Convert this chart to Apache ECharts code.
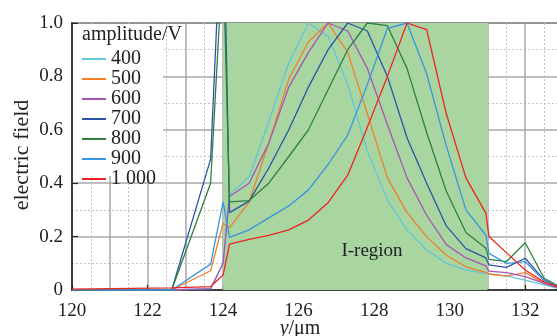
<!DOCTYPE html>
<html>
<head>
<meta charset="utf-8">
<script src="https://cdn.jsdelivr.net/npm/echarts@6/dist/echarts.min.js"></script>
<style>
  html, body { margin: 0; padding: 0; background: #fff; }
  #chart { width: 557px; height: 336px; }
</style>
</head>
<body>
<div id="chart"></div>
<script>
// Sampling positions along y (µm)
const positions = [120, 122.64, 123.67, 124.0, 124.17, 124.69, 125.21, 125.74, 126.26, 126.78,
  127.30, 127.82, 128.35, 128.87, 129.39, 129.91, 130.43, 130.96, 131.04, 131.5, 132.0, 132.5, 133.0];

// Normalised electric field for each excitation amplitude
const amplitudes = ['400', '500', '600', '700', '800', '900', '1 000'];
const field400 = [0, 0, 0.005, 0.10, 0.356, 0.424, 0.63, 0.85, 1.0, 0.95, 0.77, 0.52, 0.337, 0.225, 0.15, 0.10, 0.075, 0.062, 0.06, 0.053, 0.037, 0.019, 0.002];
const field500 = [0, 0, 0.072, 0.25, 0.233, 0.33, 0.55, 0.79, 0.93, 1.0, 0.89, 0.66, 0.42, 0.29, 0.20, 0.13, 0.087, 0.065, 0.06, 0.052, 0.065, 0.025, 0.003];
const field600 = [0, 0, 0.005, 0.10, 0.35, 0.40, 0.55, 0.76, 0.89, 1.0, 0.97, 0.83, 0.62, 0.42, 0.28, 0.17, 0.12, 0.09, 0.071, 0.065, 0.05, 0.025, 0.003];
const field700 = [0, 0, 0.49, 1.53, 0.29, 0.333, 0.457, 0.60, 0.76, 0.90, 1.0, 0.97, 0.80, 0.57, 0.40, 0.24, 0.155, 0.12, 0.094, 0.085, 0.119, 0.037, 0.005];
const field800 = [0, 0, 0.40, 1.26, 0.33, 0.335, 0.40, 0.50, 0.60, 0.75, 0.90, 1.0, 0.99, 0.83, 0.59, 0.37, 0.215, 0.156, 0.115, 0.106, 0.177, 0.044, 0.005];
const field900 = [0, 0, 0.097, 0.33, 0.197, 0.225, 0.27, 0.315, 0.375, 0.47, 0.58, 0.77, 0.98, 1.0, 0.81, 0.54, 0.30, 0.205, 0.137, 0.10, 0.106, 0.035, 0.005];
const field1000 = [0.003, 0.008, 0.013, 0.056, 0.172, 0.19, 0.205, 0.225, 0.262, 0.327, 0.43, 0.61, 0.80, 1.0, 0.975, 0.66, 0.42, 0.287, 0.20, 0.14, 0.075, 0.03, 0.005];

// Shaded I-region bounds (µm)
const regionStart = 124;
const regionEnd = 131;

const fieldSets = [field400, field500, field600, field700, field800, field900, field1000];
const colors = ['#62c6dc', '#f0802c', '#a555b5', '#2a55a5', '#2f8040', '#3a95e0', '#f02222'];
const serif = '"Liberation Serif", "Times New Roman", "DejaVu Serif", serif';
const ink = '#222';

const chart = echarts.init(document.getElementById('chart'), null, { renderer: 'canvas' });

const lineSeries = amplitudes.map((name, i) => ({
  name: name,
  type: 'line',
  xAxisIndex: 0,
  symbol: 'none',
  z: 2,
  lineStyle: { color: colors[i], width: 1.3 },
  itemStyle: { color: colors[i] },
  data: positions.map((p, j) => [p, fieldSets[i][j]])
}));

// Green band sits beneath the grid lines
const bandSeries = {
  type: 'line',
  xAxisIndex: 0,
  data: [],
  z: -1,
  silent: true,
  markArea: {
    silent: true,
    itemStyle: { color: '#a8d5a0' },
    data: [[{ xAxis: regionStart }, { xAxis: regionEnd }]]
  }
};

chart.setOption({
  animation: false,
  grid: {
    left: 72, right: -6, top: 23, bottom: 46,
    outerBoundsMode: 'none',
    show: true, borderColor: ink, borderWidth: 1.5, backgroundColor: 'transparent'
  },
  xAxis: [
    {
      type: 'value', min: 120, max: 133, interval: 2, position: 'bottom',
      axisLine: { lineStyle: { color: ink, width: 1.5 } },
      axisTick: { inside: true, length: 5, lineStyle: { color: ink, width: 1.2 } },
      axisLabel: {
        fontFamily: serif, fontSize: 19, color: ink, margin: 12, showMaxLabel: false,
        formatter: v => (v % 2 === 0 ? String(v) : '')
      },
      splitLine: { show: false }
    },
    {
      type: 'value', min: 120, max: 133, interval: 1, position: 'bottom',
      axisLine: { show: false }, axisTick: { show: false }, axisLabel: { show: false },
      splitLine: { show: true, lineStyle: { color: '#a9a9a9', width: 1.5 } },
      minorTick: { show: false, splitNumber: 2 },
      minorSplitLine: { show: true, lineStyle: { color: '#c4c4c4', width: 1, type: [2, 2] } }
    }
  ],
  yAxis: {
    type: 'value', min: 0, max: 1, interval: 0.2,
    axisLine: { show: true, lineStyle: { color: ink, width: 1.5 } },
    axisTick: { show: true, inside: true, length: 6, lineStyle: { color: ink, width: 1.2 } },
    axisLabel: {
      fontFamily: serif, fontSize: 19, color: ink, margin: 9,
      formatter: v => (v === 0 ? '0' : v.toFixed(1))
    },
    splitLine: { show: true, lineStyle: { color: '#a9a9a9', width: 1.5 } },
    minorTick: { show: false, splitNumber: 2 },
    minorSplitLine: { show: true, lineStyle: { color: '#c4c4c4', width: 1, type: [2, 2] } }
  },
  legend: {
    data: amplitudes,
    orient: 'vertical',
    left: 82, top: 49,
    padding: 0,
    icon: 'rect',
    itemWidth: 24, itemHeight: 2, itemGap: 0,
    textStyle: { fontFamily: serif, fontSize: 20, color: ink, lineHeight: 17.5 }
  },
  graphic: [
    {
      type: 'rect', z: 3, silent: true,
      shape: { x: 73, y: 24, width: 90, height: 152 },
      style: { fill: '#fff' }
    },
    {
      type: 'text', z: 5, x: 82, y: 35,
      style: { text: 'amplitude/V', fontFamily: serif, fontSize: 20, fill: ink, verticalAlign: 'middle' }
    },
    {
      type: 'text', z: 5, x: 372, y: 251,
      style: { text: 'I-region', fontFamily: serif, fontSize: 19, fill: ink, align: 'center', verticalAlign: 'middle' }
    },
    {
      type: 'text', z: 5, x: 22, y: 155, rotation: Math.PI / 2,
      style: { text: 'electric field', fontFamily: serif, fontSize: 22, fill: ink, align: 'center', verticalAlign: 'middle' }
    },
    {
      type: 'text', z: 5, x: 300, y: 329,
      style: {
        text: '{i|y}/μm', fontFamily: serif, fontSize: 20, fill: ink, align: 'center', verticalAlign: 'middle',
        rich: { i: { fontFamily: serif, fontSize: 20, fontStyle: 'italic', fill: ink } }
      }
    }
  ],
  series: [bandSeries].concat(lineSeries)
});
</script>
</body>
</html>
